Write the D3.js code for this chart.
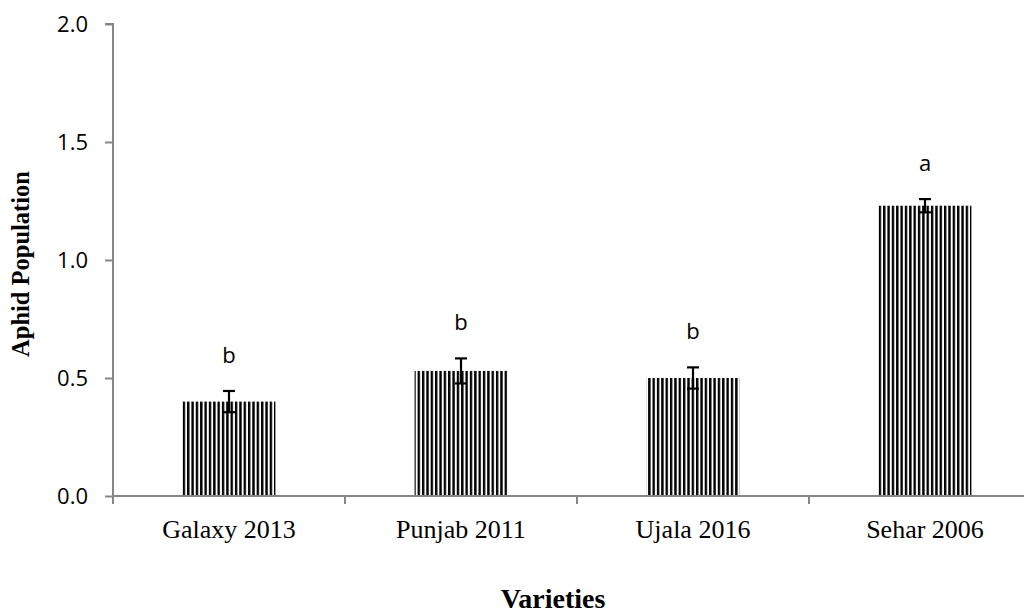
<!DOCTYPE html>
<html><head><meta charset="utf-8">
<script src="https://cdn.jsdelivr.net/npm/d3@7"></script>
<style>body{margin:0;background:#fff}svg{display:block}</style>
</head><body><svg id="c" width="1024" height="614"></svg>
<script>
const categories = ["Galaxy 2013", "Punjab 2011", "Ujala 2016", "Sehar 2006"];
const values = [0.40, 0.53, 0.50, 1.23];
const errors = [0.045, 0.053, 0.045, 0.028];
const letters = ["b", "b", "b", "a"];
const yTicks = [0, 0.5, 1.0, 1.5, 2.0];

(function () {
const svg = d3.select("#c");
const mLeft = 113, mTop = 24, mBottom = 496, bandW = 232;
const x = d3.scaleBand().domain(categories).range([mLeft, mLeft + bandW * 4]).paddingInner(0.6).paddingOuter(0.3);
const y = d3.scaleLinear().domain([0, 2]).range([mBottom, mTop]);

const defs = svg.append("defs");
const pat = defs.append("pattern").attr("id", "stripes").attr("patternUnits", "userSpaceOnUse")
  .attr("width", 4.35).attr("height", 10);
pat.append("rect").attr("x", 0).attr("y", 0).attr("width", 4.35).attr("height", 10).attr("fill", "#fff");
pat.append("rect").attr("x", 0).attr("y", 0).attr("width", 2.4).attr("height", 10).attr("fill", "#000");

// bars
svg.selectAll("rect.bar").data(values).enter().append("rect").attr("class", "bar")
  .attr("x", (d, i) => x(categories[i])).attr("width", x.bandwidth())
  .attr("y", d => y(d)).attr("height", d => y(0) - y(d))
  .attr("fill", "url(#stripes)");

// y axis
const yAxis = d3.axisLeft(y).tickValues(yTicks).tickFormat(d3.format(".1f")).tickSize(8).tickPadding(17);
const ga = svg.append("g").attr("transform", `translate(${mLeft},0)`).call(yAxis);
ga.select(".domain").attr("stroke", "#868686").attr("stroke-width", 2).attr("d", `M-8,${mTop}H0V${mBottom}`);
ga.selectAll(".tick line").attr("stroke", "#868686").attr("stroke-width", 2);
ga.selectAll(".tick text").attr("font-family", "'Open Sans', 'Liberation Sans', sans-serif").attr("font-size", 22).attr("fill", "#000");

// x axis
const xb = d3.scaleLinear().domain([0, 4]).range([mLeft, mLeft + bandW * 4]);
const gx = svg.append("g").attr("transform", `translate(0,${mBottom})`);
gx.append("line").attr("x1", mLeft).attr("x2", mLeft + bandW * 4).attr("y1", 0).attr("y2", 0).attr("stroke", "#868686").attr("stroke-width", 2);
gx.selectAll("line.t").data([0, 1, 2, 3, 4]).enter().append("line").attr("class", "t")
  .attr("x1", d => xb(d)).attr("x2", d => xb(d)).attr("y1", 0).attr("y2", 8).attr("stroke", "#868686").attr("stroke-width", 2);
gx.selectAll("text").data(categories).enter().append("text")
  .attr("x", d => x(d) + x.bandwidth() / 2).attr("y", 42).attr("text-anchor", "middle")
  .attr("font-family", "'Liberation Serif', 'Times New Roman', serif").attr("font-size", 26).text(d => d);

// error bars
const eb = svg.append("g").attr("stroke", "#000").attr("stroke-width", 2.2);
values.forEach((v, i) => {
  const cx = x(categories[i]) + x.bandwidth() / 2;
  eb.append("line").attr("x1", cx).attr("x2", cx).attr("y1", y(v + errors[i])).attr("y2", y(v - errors[i]));
  eb.append("line").attr("x1", cx - 6).attr("x2", cx + 6).attr("y1", y(v + errors[i])).attr("y2", y(v + errors[i]));
  eb.append("line").attr("x1", cx - 6).attr("x2", cx + 6).attr("y1", y(v - errors[i])).attr("y2", y(v - errors[i]));
});

// letters
svg.selectAll("text.let").data(letters).enter().append("text").attr("class", "let")
  .attr("x", (d, i) => x(categories[i]) + x.bandwidth() / 2)
  .attr("y", (d, i) => y(values[i] + errors[i]) - 28).attr("text-anchor", "middle")
  .attr("font-family", "'Open Sans', 'Liberation Sans', sans-serif").attr("font-size", 22).text(d => d);

// axis titles
svg.append("text").attr("transform", "translate(29,264) rotate(-90)").attr("text-anchor", "middle")
  .attr("font-family", "'Liberation Serif', 'Times New Roman', serif").attr("font-weight", "bold").attr("font-size", 24.5)
  .text("Aphid Population");
svg.append("text").attr("x", 553).attr("y", 608).attr("text-anchor", "middle")
  .attr("font-family", "'Liberation Serif', 'Times New Roman', serif").attr("font-weight", "bold").attr("font-size", 28)
  .text("Varieties");
})();
</script></body></html>
